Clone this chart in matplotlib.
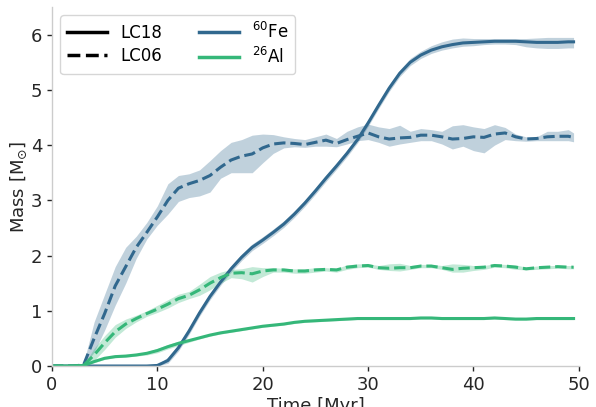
import numpy as np
import matplotlib
matplotlib.use("Agg")
import matplotlib.pyplot as plt
from matplotlib.lines import Line2D

# Zeitachse [Myr]
t = list(range(0, 50)) + [49.5]

# 60Fe, LC18 (Mittelwert + Band)
fe18 = [0, 0, 0, 0, 0, 0, 0, 0, 0, 0, 0.01, 0.1, 0.33, 0.63, 0.96, 1.26, 1.52, 1.76, 1.97, 2.15,
        2.28, 2.42, 2.57, 2.75, 2.95, 3.17, 3.4, 3.62, 3.85, 4.1, 4.4, 4.72, 5.03, 5.3, 5.5, 5.63,
        5.72, 5.78, 5.82, 5.85, 5.86, 5.87, 5.88, 5.88, 5.88, 5.87, 5.86, 5.86, 5.86, 5.87, 5.87]
fe18_lo = [0, 0, 0, 0, 0, 0, 0, 0, 0, 0, 0, 0.05, 0.27, 0.57, 0.9, 1.2, 1.46, 1.7, 1.91, 2.09,
           2.22, 2.36, 2.51, 2.69, 2.89, 3.11, 3.34, 3.56, 3.79, 4.04, 4.34, 4.66, 4.97, 5.24, 5.44, 5.57,
           5.66, 5.72, 5.76, 5.79, 5.8, 5.82, 5.83, 5.83, 5.82, 5.78, 5.76, 5.75, 5.75, 5.76, 5.76]
fe18_hi = [0, 0, 0, 0, 0, 0, 0, 0, 0, 0, 0.03, 0.16, 0.39, 0.69, 1.02, 1.32, 1.58, 1.82, 2.03, 2.21,
           2.34, 2.48, 2.63, 2.81, 3.01, 3.23, 3.46, 3.68, 3.91, 4.16, 4.46, 4.78, 5.09, 5.36, 5.57, 5.7,
           5.8, 5.87, 5.92, 5.94, 5.93, 5.93, 5.93, 5.93, 5.93, 5.93, 5.94, 5.95, 5.95, 5.95, 5.95]

# 60Fe, LC06
fe06 = [0, 0, 0, 0.02, 0.5, 0.95, 1.45, 1.8, 2.15, 2.42, 2.7, 3.0, 3.22, 3.3, 3.36, 3.45, 3.6, 3.73, 3.8, 3.84,
        3.95, 4.02, 4.04, 4.03, 4.01, 4.05, 4.09, 4.03, 4.1, 4.16, 4.22, 4.15, 4.11, 4.13, 4.14, 4.18,
        4.18, 4.15, 4.11, 4.12, 4.15, 4.14, 4.2, 4.22, 4.15, 4.11, 4.12, 4.15, 4.16, 4.16, 4.14]
fe06_lo = [0, 0, 0, 0, 0.25, 0.65, 1.1, 1.5, 1.95, 2.3, 2.55, 2.75, 2.98, 3.05, 3.08, 3.15, 3.4, 3.5, 3.5, 3.5,
           3.68, 3.85, 3.95, 3.97, 3.96, 3.98, 3.98, 3.97, 4.02, 4.08, 4.1, 4.05, 3.98, 4.02, 4.05, 4.08,
           4.08, 4.02, 3.93, 3.98, 3.9, 3.86, 4.0, 4.1, 4.08, 4.07, 4.08, 4.08, 4.08, 4.08, 4.06]
fe06_hi = [0, 0, 0, 0.05, 0.8, 1.3, 1.8, 2.15, 2.35, 2.6, 2.9, 3.3, 3.45, 3.48, 3.55, 3.72, 3.9, 4.05, 4.1, 4.18,
           4.2, 4.19, 4.15, 4.12, 4.1, 4.15, 4.2, 4.12, 4.25, 4.33, 4.38, 4.33, 4.3, 4.36, 4.25, 4.3,
           4.28, 4.25, 4.35, 4.37, 4.33, 4.3, 4.37, 4.32, 4.2, 4.15, 4.15, 4.25, 4.25, 4.28, 4.22]

# 26Al, LC18
al18 = [0, 0, 0, 0.01, 0.08, 0.14, 0.17, 0.18, 0.2, 0.23, 0.28, 0.35, 0.41, 0.46, 0.51, 0.56, 0.6, 0.63, 0.66, 0.69,
        0.72, 0.74, 0.76, 0.79, 0.81, 0.82, 0.83, 0.84, 0.85, 0.86, 0.86, 0.86, 0.86, 0.86, 0.86, 0.87,
        0.87, 0.86, 0.86, 0.86, 0.86, 0.86, 0.87, 0.86, 0.85, 0.85, 0.86, 0.86, 0.86, 0.86, 0.86]
al18_lo = [0, 0, 0, 0, 0.06, 0.12, 0.15, 0.16, 0.18, 0.2, 0.24, 0.31, 0.37, 0.43, 0.49, 0.54, 0.58, 0.61, 0.64, 0.67,
           0.7, 0.72, 0.74, 0.77, 0.79, 0.8, 0.81, 0.82, 0.83, 0.84, 0.84, 0.84, 0.84, 0.84, 0.84, 0.85,
           0.85, 0.84, 0.84, 0.84, 0.84, 0.84, 0.85, 0.84, 0.83, 0.83, 0.84, 0.84, 0.84, 0.84, 0.84]
al18_hi = [0, 0, 0, 0.02, 0.1, 0.16, 0.19, 0.2, 0.22, 0.26, 0.32, 0.39, 0.45, 0.49, 0.53, 0.58, 0.62, 0.65, 0.68, 0.71,
           0.74, 0.76, 0.78, 0.81, 0.83, 0.84, 0.85, 0.86, 0.87, 0.88, 0.88, 0.88, 0.88, 0.88, 0.88, 0.89,
           0.89, 0.88, 0.88, 0.88, 0.88, 0.88, 0.89, 0.88, 0.87, 0.87, 0.88, 0.88, 0.88, 0.88, 0.88]

# 26Al, LC06
al06 = [0, 0, 0, 0.01, 0.2, 0.42, 0.62, 0.76, 0.86, 0.95, 1.03, 1.12, 1.22, 1.28, 1.38, 1.5, 1.6, 1.68, 1.69, 1.67,
        1.72, 1.74, 1.74, 1.72, 1.72, 1.74, 1.75, 1.74, 1.79, 1.81, 1.82, 1.78, 1.77, 1.78, 1.78, 1.81,
        1.81, 1.78, 1.75, 1.77, 1.78, 1.79, 1.82, 1.81, 1.79, 1.76, 1.78, 1.79, 1.8, 1.79, 1.79]
al06_lo = [0, 0, 0, 0, 0.1, 0.3, 0.52, 0.68, 0.8, 0.9, 0.97, 1.05, 1.15, 1.22, 1.28, 1.38, 1.5, 1.6, 1.58, 1.52,
           1.62, 1.7, 1.7, 1.68, 1.68, 1.7, 1.72, 1.7, 1.75, 1.78, 1.79, 1.75, 1.73, 1.72, 1.75, 1.78,
           1.78, 1.75, 1.7, 1.7, 1.73, 1.75, 1.79, 1.78, 1.75, 1.74, 1.75, 1.76, 1.77, 1.76, 1.76]
al06_hi = [0, 0, 0, 0.02, 0.32, 0.55, 0.75, 0.85, 0.92, 1.0, 1.1, 1.2, 1.3, 1.35, 1.48, 1.62, 1.7, 1.75, 1.76, 1.8,
           1.78, 1.78, 1.77, 1.76, 1.76, 1.78, 1.78, 1.77, 1.83, 1.85, 1.85, 1.82, 1.85, 1.86, 1.82, 1.84,
           1.84, 1.82, 1.85, 1.84, 1.82, 1.82, 1.85, 1.84, 1.83, 1.79, 1.81, 1.82, 1.82, 1.82, 1.82]

c_fe = "#31688e"
c_al = "#35b779"

plt.rcParams['font.family'] = ['DejaVu Sans']
plt.rcParams['font.size'] = 12

fig = plt.figure(figsize=(5.96, 4.07), dpi=100)
ax = fig.add_axes([0.0872, 0.1007, 0.884, 0.882])

# Baender
ax.fill_between(t, fe18_lo, fe18_hi, color=c_fe, alpha=0.3, linewidth=0)
ax.fill_between(t, fe06_lo, fe06_hi, color=c_fe, alpha=0.3, linewidth=0)
ax.fill_between(t, al18_lo, al18_hi, color=c_al, alpha=0.3, linewidth=0)
ax.fill_between(t, al06_lo, al06_hi, color=c_al, alpha=0.3, linewidth=0)

# Linien
ax.plot(t, fe18, color=c_fe, lw=2.2)
ax.plot(t, fe06, color=c_fe, lw=2.2, ls="--")
ax.plot(t, al18, color=c_al, lw=2.2)
ax.plot(t, al06, color=c_al, lw=2.2, ls="--")

ax.set_xlim(0, 50)
ax.set_ylim(0, 6.5)
ax.set_xticks([0, 10, 20, 30, 40, 50])
ax.set_yticks([0, 1, 2, 3, 4, 5, 6])
ax.set_xlabel("Time [Myr]", fontsize=13, color=".15", labelpad=2)
ax.set_ylabel(r"Mass [M$_{\odot}$]", fontsize=13, color=".15", labelpad=1)

# Achsen
for s in ['top', 'right']:
    ax.spines[s].set_visible(False)
for s in ['left', 'bottom']:
    ax.spines[s].set_color('0.8')
    ax.spines[s].set_linewidth(1.0)
ax.tick_params(colors='.15', labelsize=13, length=3.5, width=1)

# Legende
handles = [Line2D([], [], color='k', lw=2.5),
           Line2D([], [], color='k', lw=2.5, ls='--'),
           Line2D([], [], color=c_fe, lw=2.5),
           Line2D([], [], color=c_al, lw=2.5)]
labels = ["LC18", "LC06", r"$^{60}$Fe", r"$^{26}$Al"]
ax.legend(handles, labels, ncol=2, loc="upper left", fontsize=12,
          labelspacing=0.3, columnspacing=2.2, handlelength=2.4,
          frameon=True, edgecolor='0.8', bbox_to_anchor=(0.0, 1.0))

fig.savefig("out.png", dpi=100)
